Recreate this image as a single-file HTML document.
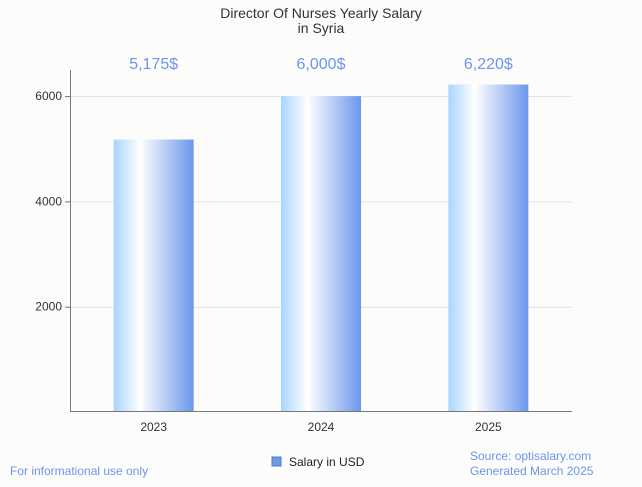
<!DOCTYPE html>
<html><head><meta charset="utf-8"><style>
body{margin:0;background:#fcfcfa;font-family:"Liberation Sans",sans-serif;}
</style></head><body>
<svg width="642" height="482" xmlns="http://www.w3.org/2000/svg">
<defs><linearGradient id="g" x1="0" x2="1" y1="0" y2="0">
<stop offset="0" stop-color="#a8d4ff"/><stop offset="0.33" stop-color="#ffffff"/><stop offset="1" stop-color="#6b96ec"/></linearGradient></defs>
<rect width="642" height="482" fill="#fcfcfa"/>
<text x="321" y="18" text-anchor="middle" font-size="14" fill="#333">Director Of Nurses Yearly Salary</text>
<text x="321" y="33" text-anchor="middle" font-size="14" fill="#333">in Syria</text>
<g id="grid"></g><g id="bars"></g>
<line x1="70.5" y1="70" x2="70.5" y2="412" stroke="#777"/>
<line x1="70" y1="411.5" x2="572" y2="411.5" stroke="#777"/>
<rect x="272" y="457" width="9" height="9" fill="#6b9ae0" stroke="#4a7ad0"/>
<text x="289" y="466" font-size="12" fill="#222">Salary in USD</text>
<text x="10" y="475" font-size="12" fill="#6b96ec">For informational use only</text>
<text x="470" y="460" font-size="12" fill="#6b96ec">Source: optisalary.com</text>
<text x="470" y="475" font-size="12" fill="#6b96ec">Generated March 2025</text>
</svg>
<script>
const categories=["2023","2024","2025"];
const values=[5175,6000,6220];
const labels=["5,175$","6,000$","6,220$"];
const yTicks=[2000,4000,6000];
const NS="http://www.w3.org/2000/svg";
const x0=70,x1=572,yBase=412,yPer=105.3/2000;
const y=v=>yBase-v*yPer;
const band=(x1-x0)/categories.length;
const bx=i=>x0+band*(i+0.5);
const grid=document.getElementById('grid'),bars=document.getElementById('bars');
function mk(t,a,p){const e=document.createElementNS(NS,t);for(const k in a)e.setAttribute(k,a[k]);p.appendChild(e);return e;}
yTicks.forEach(t=>{
 const l=mk('line',{x1:x0,x2:x1,y1:y(t)+0.5,y2:y(t)+0.5,stroke:'#e2e2e2'},grid);
 
 
 const tk=mk('line',{x1:x0-5,x2:x0,y1:y(t)+0.5,y2:y(t)+0.5,stroke:'#777'},grid);
 
 
 const tx=mk('text',{x:x0-8,y:y(t)+4,'text-anchor':'end','font-size':12,fill:'#333'},grid);
 tx.textContent=t;
 
 
});
categories.forEach((c,i)=>{
 const r=mk('rect',{x:bx(i)-40,y:y(values[i]),width:80,height:yBase-y(values[i]),fill:'url(#g)'},bars);
 
 
 const v=mk('text',{x:bx(i),y:69,'text-anchor':'middle','font-size':16,fill:'#6b96ec'},bars);
 v.textContent=labels[i];
 
 
 const t=mk('text',{x:bx(i),y:431,'text-anchor':'middle','font-size':12,fill:'#333'},bars);
 t.textContent=c;
 
 
});
</script>
</body></html>
